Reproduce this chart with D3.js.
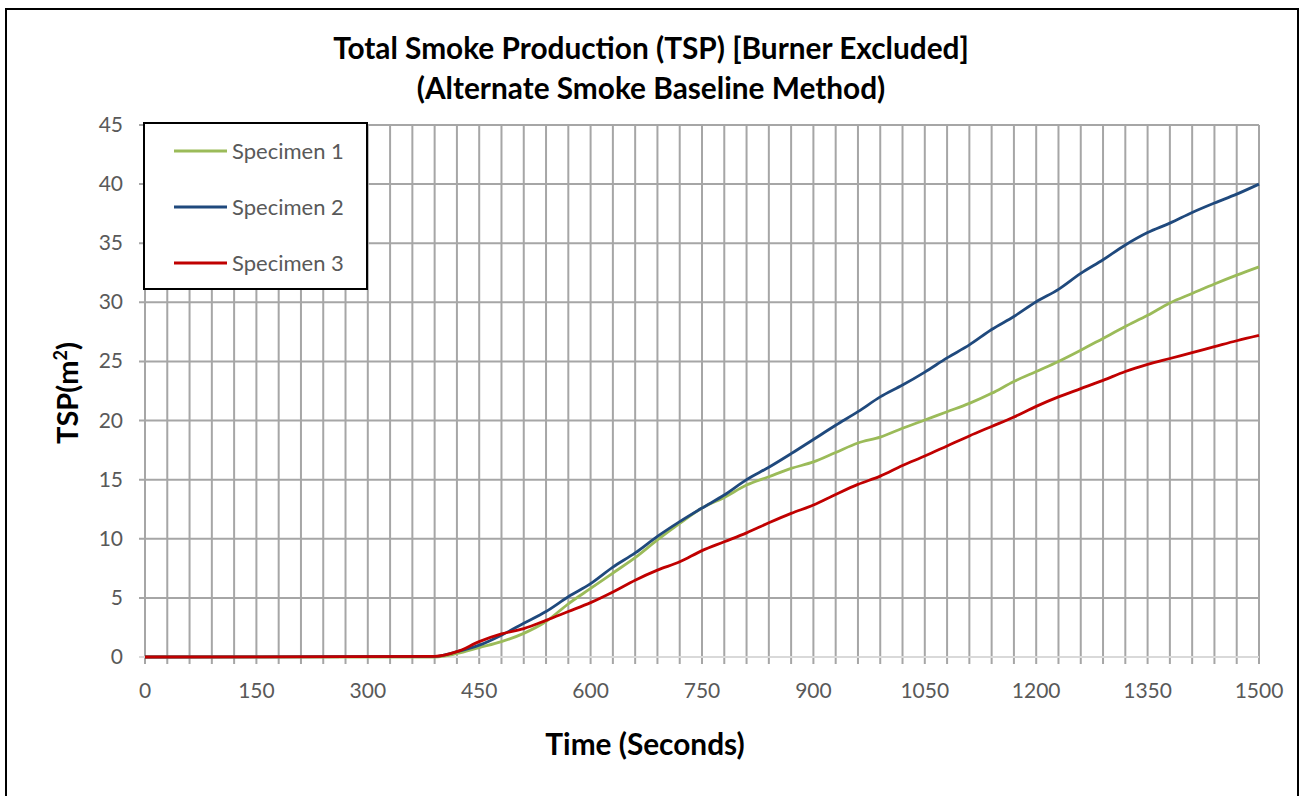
<!DOCTYPE html>
<html>
<head>
<meta charset="utf-8">
<script src="https://cdn.jsdelivr.net/npm/d3@7"></script>
<style>
  body { margin: 0; background: #fff; }
  svg { display: block; font-family: Lato, "Open Sans", sans-serif; }
</style>
</head>
<body>
<svg id="chart" width="1306" height="796"></svg>
<script>
const seconds = [0, 390, 420, 450, 480, 510, 540, 570, 600, 630, 660, 690, 720, 750, 780, 810, 840, 870, 900,
  930, 960, 990, 1020, 1050, 1080, 1110, 1140, 1170, 1200, 1230, 1260, 1290, 1320, 1350, 1380, 1410, 1440, 1470, 1500];

const specimen1 = [0, 0, 0.3, 0.8, 1.3, 2.0, 3.0, 4.5, 5.8, 7.1, 8.4, 9.9, 11.3, 12.6, 13.5, 14.55, 15.25, 15.95, 16.5,
  17.3, 18.1, 18.6, 19.35, 20.05, 20.75, 21.45, 22.3, 23.3, 24.15, 25.0, 25.95, 26.95, 27.95, 28.9, 29.95, 30.75, 31.55, 32.3, 33.0];

const specimen2 = [0, 0.05, 0.45, 1.0, 1.85, 2.85, 3.85, 5.1, 6.2, 7.6, 8.8, 10.2, 11.45, 12.6, 13.7, 15.0, 16.05, 17.2, 18.4,
  19.6, 20.75, 22.0, 23.0, 24.1, 25.3, 26.4, 27.7, 28.8, 30.05, 31.1, 32.45, 33.6, 34.85, 35.9, 36.7, 37.6, 38.4, 39.15, 40.0];

const specimen3 = [0, 0.05, 0.45, 1.3, 1.95, 2.4, 3.1, 3.85, 4.6, 5.5, 6.5, 7.35, 8.05, 9.0, 9.75, 10.5, 11.35, 12.15, 12.85,
  13.75, 14.6, 15.3, 16.2, 17.0, 17.85, 18.7, 19.5, 20.3, 21.2, 22.0, 22.7, 23.4, 24.15, 24.75, 25.25, 25.75, 26.25, 26.75, 27.2];

const seriesNames = ["Specimen 1", "Specimen 2", "Specimen 3"];
const xTicks = [0, 150, 300, 450, 600, 750, 900, 1050, 1200, 1350, 1500];
const yTicks = [0, 5, 10, 15, 20, 25, 30, 35, 40, 45];

const colors = ["#9bbb59", "#1f497d", "#c00000"];

const svg = d3.select("#chart");
const margin = { left: 145, right: 1259, top: 125, bottom: 657 };

const x = d3.scaleLinear().domain([0, 1500]).range([margin.left, margin.right]);
const y = d3.scaleLinear().domain([0, 45]).range([margin.bottom, margin.top]);

// outer chart frame
svg.append("rect")
    .attr("x", 6).attr("y", 9)
    .attr("width", 1292).attr("height", 800)
    .attr("fill", "#fff")
    .attr("stroke", "#000")
    .attr("stroke-width", 2);

// vertical gridlines every 30s, poking below the axis like tick marks
const grid = svg.append("g").attr("class", "grid");
grid.selectAll("line.v")
  .data(d3.range(0, 1501, 30))
  .enter().append("line")
    .attr("class", "v")
    .attr("x1", d => x(d)).attr("x2", d => x(d))
    .attr("y1", margin.top).attr("y2", margin.bottom + 7)
    .attr("stroke", "#a6a6a6")
    .attr("stroke-width", 2);

grid.selectAll("line.h")
  .data(yTicks.filter(d => d > 0))
  .enter().append("line")
    .attr("class", "h")
    .attr("x1", margin.left - 6).attr("x2", margin.right)
    .attr("y1", d => y(d)).attr("y2", d => y(d))
    .attr("stroke", "#a6a6a6")
    .attr("stroke-width", 2);

grid.append("line")
    .attr("x1", margin.left - 6).attr("x2", margin.right)
    .attr("y1", y(0)).attr("y2", y(0))
    .attr("stroke", "#d9d9d9")
    .attr("stroke-width", 2);

// tick labels
svg.append("g")
  .selectAll("text")
  .data(xTicks)
  .enter().append("text")
    .attr("x", d => x(d))
    .attr("y", 698)
    .attr("text-anchor", "middle")
    .attr("fill", "#595959")
    .attr("font-size", 21)
    .text(d => d);

svg.append("g")
  .selectAll("text")
  .data(yTicks)
  .enter().append("text")
    .attr("x", 123)
    .attr("y", d => y(d) + 7)
    .attr("text-anchor", "end")
    .attr("fill", "#595959")
    .attr("font-size", 21)
    .text(d => d);

// series
const line = d3.line()
    .curve(d3.curveMonotoneX)
    .x(d => x(d[0]))
    .y(d => y(d[1]));

const allSeries = [specimen1, specimen2, specimen3];

svg.append("g")
  .selectAll("path")
  .data(allSeries)
  .enter().append("path")
    .attr("d", d => line(seconds.map((s, i) => [s, d[i]])))
    .attr("fill", "none")
    .attr("stroke", (d, i) => colors[i])
    .attr("stroke-width", 2.8)
    .attr("stroke-linejoin", "round");

// legend
const legend = svg.append("g");
legend.append("rect")
    .attr("x", 144).attr("y", 123)
    .attr("width", 223).attr("height", 166)
    .attr("fill", "#fff")
    .attr("stroke", "#000")
    .attr("stroke-width", 2);

const item = legend.selectAll("g.item")
  .data(seriesNames)
  .enter().append("g")
    .attr("class", "item")
    .attr("transform", (d, i) => `translate(0, ${151 + i * 56})`);

item.append("line")
    .attr("x1", 174).attr("x2", 227)
    .attr("stroke", (d, i) => colors[i])
    .attr("stroke-width", 2.8);

item.append("text")
    .attr("x", 232)
    .attr("y", 8)
    .attr("fill", "#595959")
    .attr("font-size", 22)
    .text(d => d);

// titles
const title = svg.append("text")
    .attr("x", 651)
    .attr("text-anchor", "middle")
    .attr("font-weight", "bold")
    .attr("font-size", 29.8)
    .attr("fill", "#000");
title.append("tspan").attr("x", 651).attr("y", 59).text("Total Smoke Production (TSP) [Burner Excluded]");
title.append("tspan").attr("x", 651).attr("y", 99).text("(Alternate Smoke Baseline Method)");

svg.append("text")
    .attr("x", 645)
    .attr("y", 755)
    .attr("text-anchor", "middle")
    .attr("font-weight", "bold")
    .attr("font-size", 29.8)
    .text("Time (Seconds)");

const yTitle = svg.append("text")
    .attr("transform", "translate(78, 393) rotate(-90)")
    .attr("text-anchor", "middle")
    .attr("font-weight", "bold")
    .attr("font-size", 29);
yTitle.append("tspan").text("TSP(m");
yTitle.append("tspan").attr("font-size", 18).attr("dy", -11).text("2");
yTitle.append("tspan").attr("dy", 11).text(")");
</script>
</body>
</html>
